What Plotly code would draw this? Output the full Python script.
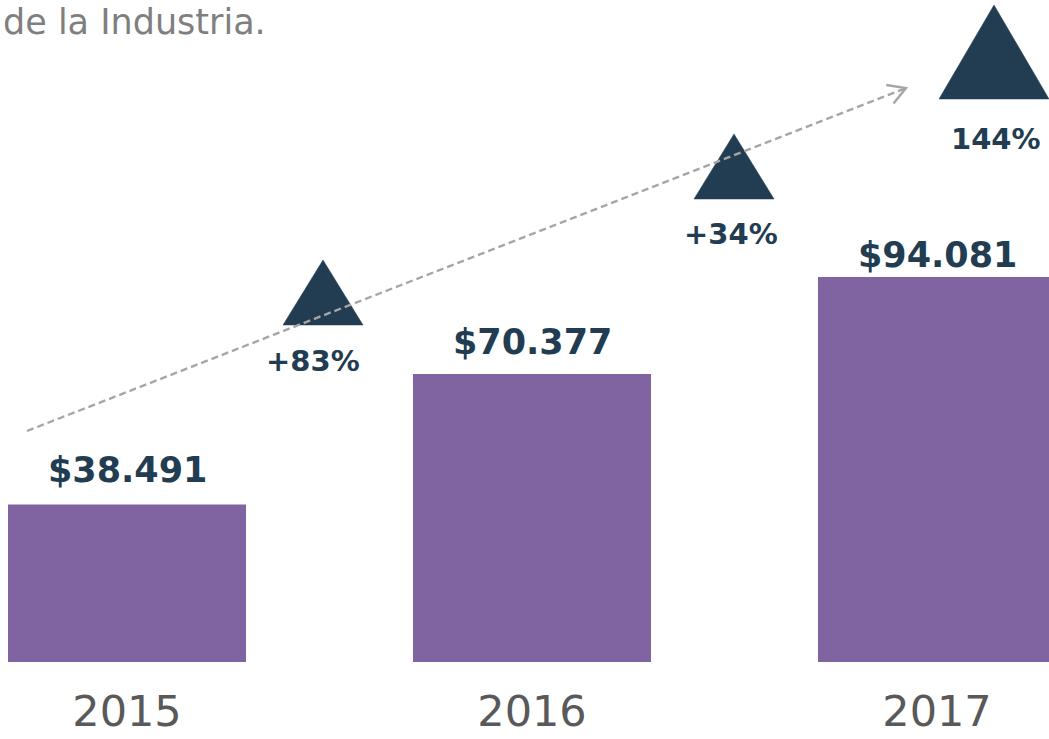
import plotly.graph_objects as go
import math

# ---------------- data ----------------
years = ["2015", "2016", "2017"]
values = [38491, 70377, 94081]
value_labels = ["$38.491", "$70.377", "$94.081"]
growth_labels = ["+83%", "+34%", "144%"]
header_text = "de la Industria."

# ---------------- geometry / style ----------------
W, H = 1049, 739
MB = 77
PH = H - MB                      # plot-area height in px
PX_PER_CAT = 405.0               # px between category centres
FIRST_CENTER_PX = 127.0
PX_PER_UNIT = 0.004093           # px per currency unit
x_range = [-FIRST_CENTER_PX / PX_PER_CAT, (W - FIRST_CENTER_PX) / PX_PER_CAT]
y_range = [0, PH / PX_PER_UNIT]

NAVY = "#223D51"
PURPLE = "#8064A2"
GRAY_TXT = "#595959"
GRAY_HEAD = "#7F7F7F"
DASH_GRAY = "#A6A6A6"


def px_x(px):
    return x_range[0] + px / PX_PER_CAT


def px_y(py):
    return (PH - py) / PX_PER_UNIT


def paper_x(px):
    return px / W


def paper_y(py):
    return (PH - py) / PH


# decoration placement (pixels): centre x, base y, apex y, half width
tri_specs = [(323, 325, 260, 40), (734, 199, 134, 40), (994, 99, 5, 55)]
growth_text_pos = [(313, 361), (731, 234), (996, 139)]
value_label_shift = [12, 10, 0]

fig = go.Figure()

fig.add_trace(go.Bar(
    x=list(range(len(years))), y=values,
    width=238 / PX_PER_CAT,
    marker=dict(color=PURPLE, line=dict(width=0)),
    hoverinfo="skip", showlegend=False,
))

# growth triangles
for cx, by, ty, hw in tri_specs:
    fig.add_trace(go.Scatter(
        x=[px_x(cx - hw), px_x(cx + hw), px_x(cx), px_x(cx - hw)],
        y=[px_y(by), px_y(by), px_y(ty), px_y(by)],
        mode="lines", fill="toself", fillcolor=NAVY,
        line=dict(color=NAVY, width=0.5),
        hoverinfo="skip", showlegend=False,
    ))

annotations = []
for i, (v, lab) in enumerate(zip(values, value_labels)):
    annotations.append(dict(
        x=i, y=v, xref="x", yref="y", text=lab, showarrow=False,
        yanchor="bottom", xanchor="center", yshift=value_label_shift[i],
        font=dict(family="DejaVu Sans", size=35, color=NAVY, weight="bold"),
    ))

for (gx, gy), lab in zip(growth_text_pos, growth_labels):
    annotations.append(dict(
        x=px_x(gx), y=px_y(gy), xref="x", yref="y", text=lab, showarrow=False,
        yanchor="middle", xanchor="center",
        font=dict(family="DejaVu Sans", size=29, color=NAVY, weight="bold"),
    ))

annotations.append(dict(
    x=0, y=1, xref="paper", yref="paper", text=header_text, showarrow=False,
    xanchor="left", yanchor="top", xshift=1, yshift=0,
    font=dict(family="DejaVu Sans", size=35, color=GRAY_HEAD),
))

# dashed trend arrow
sx, sy = 27, 431
ex, ey = 906, 88
shapes = [dict(
    type="line", xref="paper", yref="paper",
    x0=paper_x(sx), y0=paper_y(sy), x1=paper_x(ex), y1=paper_y(ey),
    line=dict(color=DASH_GRAY, width=2.4, dash="7px,4px"),
)]
ang = math.atan2(sy - ey, sx - ex)
L = 20
pts = []
for d in (math.radians(30), -math.radians(30)):
    pts.append((ex + L * math.cos(ang + d), ey + L * math.sin(ang + d)))
path = "M {} {} L {} {} L {} {}".format(
    paper_x(pts[0][0]), paper_y(pts[0][1]),
    paper_x(ex), paper_y(ey),
    paper_x(pts[1][0]), paper_y(pts[1][1]),
)
shapes.append(dict(type="path", xref="paper", yref="paper", path=path,
                   line=dict(color=DASH_GRAY, width=2.4)))

fig.update_layout(
    width=W, height=H,
    margin=dict(l=0, r=0, t=0, b=MB, pad=0, autoexpand=False),
    paper_bgcolor="white", plot_bgcolor="white",
    showlegend=False,
    annotations=annotations, shapes=shapes,
    xaxis=dict(
        range=x_range, tickvals=list(range(len(years))), ticktext=years,
        showgrid=False, zeroline=False, showline=False, ticks="",
        ticklabelstandoff=20, automargin=False,
        tickfont=dict(family="DejaVu Sans", size=43, color=GRAY_TXT),
        fixedrange=True,
    ),
    yaxis=dict(range=y_range, visible=False, fixedrange=True, automargin=False),
)

fig.write_html(
    "out.html",
    config={"displayModeBar": False},
    post_script="document.body.style.margin='0';document.body.style.overflow='hidden';",
)
